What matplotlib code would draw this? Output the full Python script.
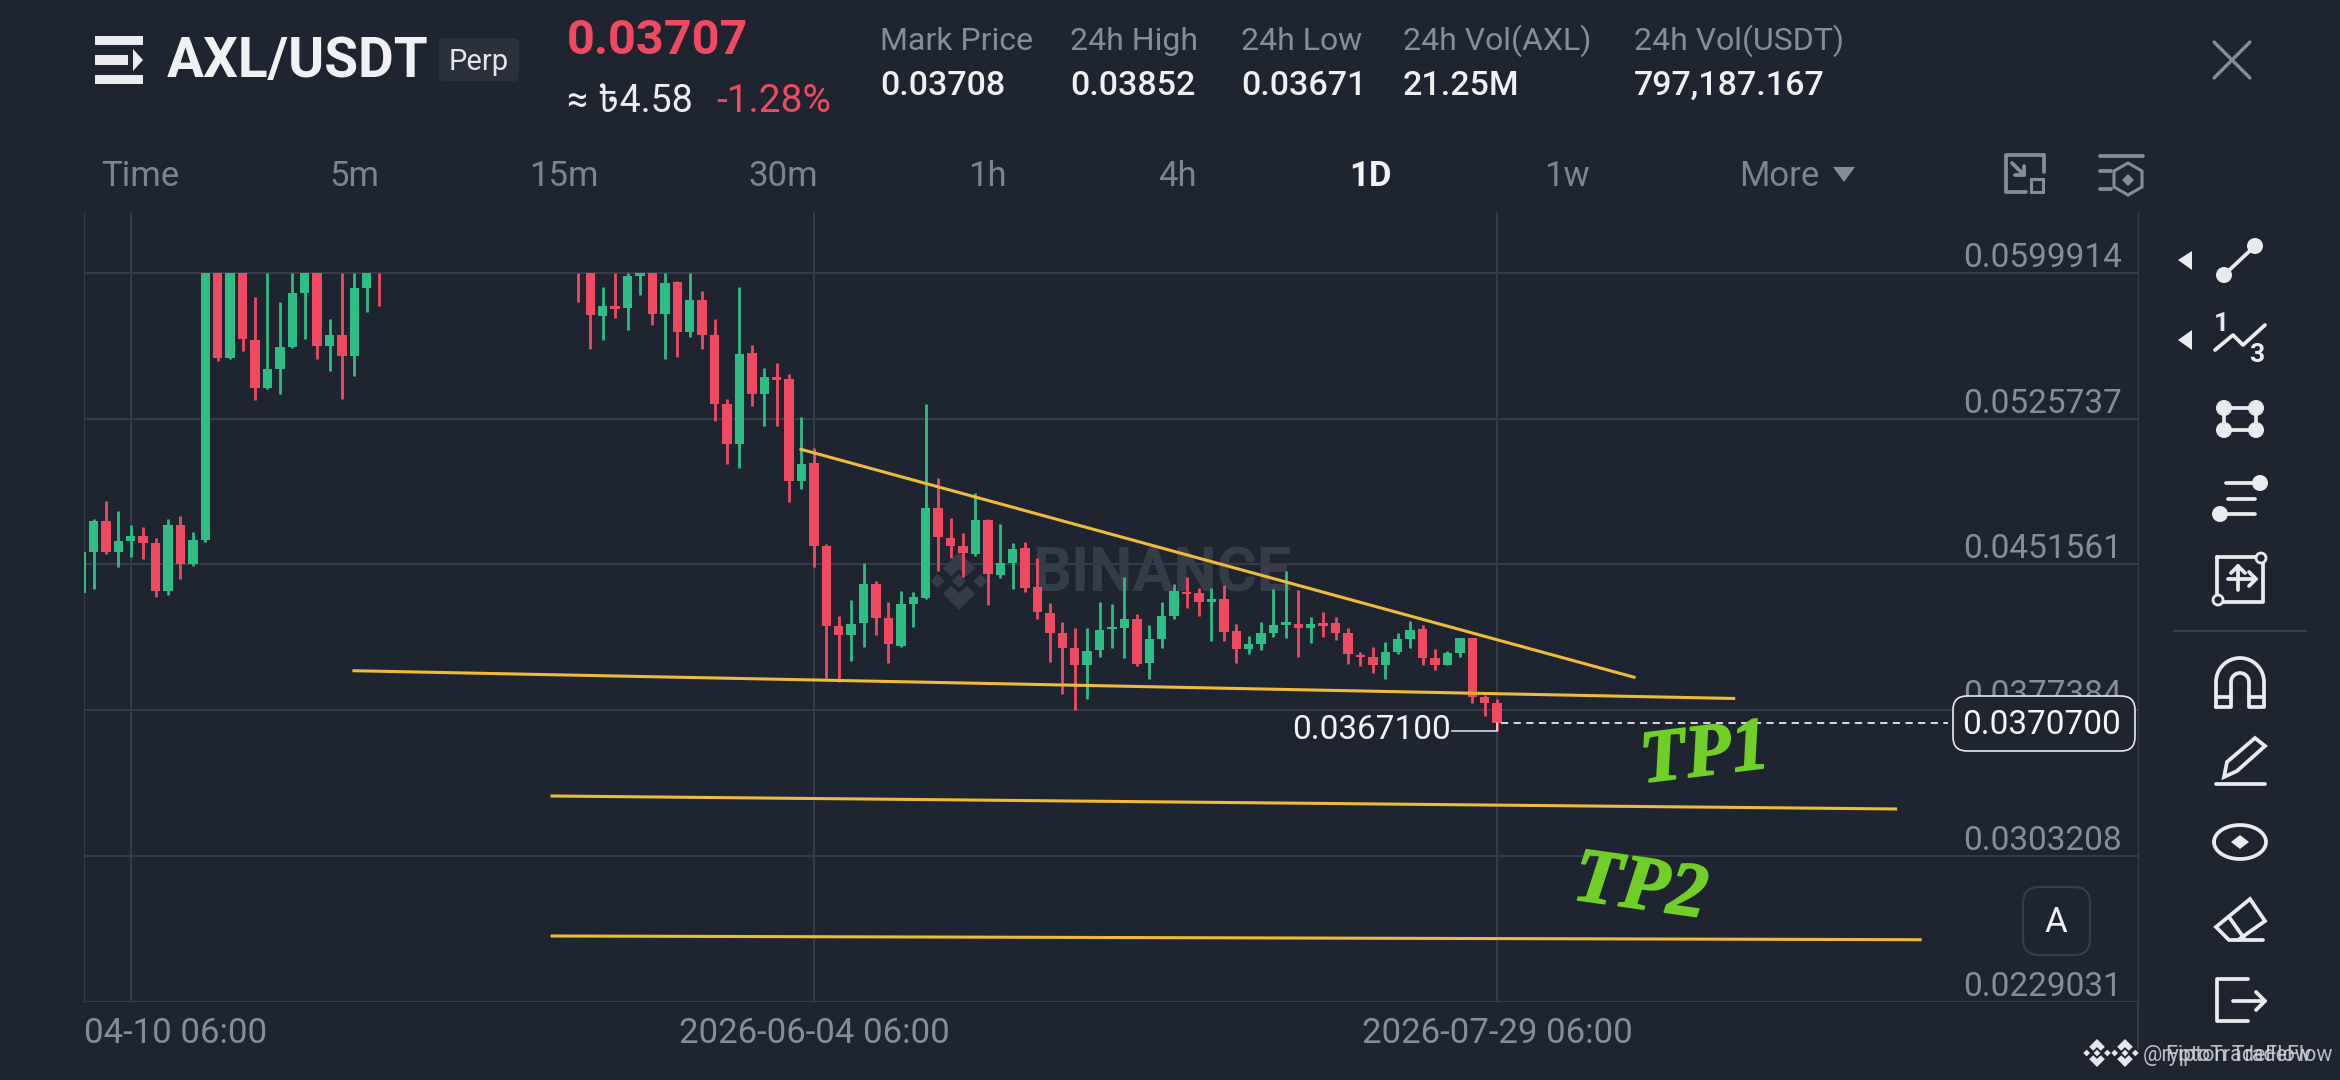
#!/usr/bin/env python3
"""AXL/USDT perp daily candles, redrawn from a phone screenshot."""
import matplotlib
matplotlib.use("Agg")
import matplotlib.pyplot as plt
import matplotlib.patheffects as pe
import numpy as np
from matplotlib.patches import Circle, FancyBboxPatch, Polygon, Rectangle
from matplotlib.transforms import ScaledTranslation

plt.rcParams["font.family"] = ["Roboto", "DejaVu Sans", "Noto Sans"]

# day index, 0 = 2026-04-07; the candles from day 24 to 38 sit above the cropped part
days = list(range(-1, 24)) + list(range(39, 114))
# prices in 1e-5 USDT
opens = [4369, 4580, 4738, 4580, 4635, 4658, 4626, 4380, 4714, 4516, 4638, 5999, 5565, 5999, 5657,
         5413, 5508, 5619, 5897, 5999, 5625, 5680, 5577, 5923, 5999,
         5999, 5999, 5780, 5828, 5819, 5982, 5999, 5791, 5950, 5699, 5860, 5682, 5331, 5126, 5589,
         5382, 5467, 5457, 4941, 5030, 4609, 4204, 4157, 4216, 4416, 4245, 4102, 4314, 4346, 4801,
         4652, 4611, 4569, 4741, 4462, 4525, 4597, 4399, 4270, 4165, 4089, 4004, 4080, 4187, 4194,
         4237, 4013, 4138, 4254, 4377, 4369, 4326, 4340, 4177, 4084, 4111, 4165, 4209, 4211, 4191,
         4216, 4216, 4169, 4057, 4047, 4004, 4072, 4138, 4186, 4038, 4006, 4067, 4140, 3840, 3809]
highs = [4580, 4745, 4838, 4789, 4714, 4706, 4648, 4748, 4762, 4679, 5999, 5999, 5999, 5999, 5877,
         5999, 5852, 5999, 5999, 5999, 5763, 5999, 5999, 5999, 5999,
         5999, 5999, 5926, 5999, 5999, 5999, 5999, 5999, 5957, 5999, 5908, 5763, 5358, 5926, 5631,
         5513, 5538, 5484, 5264, 5106, 4618, 4253, 4335, 4521, 4433, 4326, 4380, 4374, 5330, 4957,
         4753, 4674, 4877, 4745, 4721, 4623, 4631, 4547, 4321, 4225, 4191, 4191, 4326, 4314, 4454,
         4264, 4208, 4323, 4416, 4454, 4394, 4394, 4411, 4213, 4152, 4225, 4391, 4482, 4386, 4250,
         4274, 4247, 4192, 4072, 4098, 4123, 4169, 4230, 4209, 4084, 4077, 4143, 4143, 3854, 3831]
lows = [4369, 4391, 4569, 4504, 4552, 4545, 4352, 4358, 4443, 4509, 4631, 5550, 5558, 5601, 5352,
        5410, 5380, 5615, 5660, 5562, 5499, 5355, 5474, 5801, 5828,
        5850, 5609, 5655, 5767, 5708, 5886, 5733, 5562, 5570, 5670, 5613, 5243, 5024, 5006, 5323,
        5221, 5221, 4835, 4901, 4504, 3936, 3919, 4026, 4097, 4157, 4016, 4097, 4199, 4340, 4484,
        4547, 4453, 4560, 4309, 4445, 4391, 4377, 4236, 4021, 3855, 3775, 3831, 4043, 4092, 4042,
        4000, 3935, 4091, 4237, 4296, 4255, 4126, 4126, 4013, 4060, 4081, 4145, 4143, 4043, 4118,
        4148, 4131, 4009, 4001, 3962, 3933, 4060, 4093, 4003, 3981, 4003, 4047, 3809, 3745, 3671]
closes = [4580, 4738, 4580, 4635, 4658, 4626, 4380, 4714, 4516, 4638, 5999, 5565, 5999, 5660, 5413,
          5508, 5619, 5897, 5999, 5625, 5680, 5577, 5919, 5999, 5999,
          5999, 5786, 5828, 5814, 5980, 5996, 5791, 5947, 5699, 5860, 5682, 5331, 5126, 5585, 5384,
          5467, 5453, 4940, 5026, 4609, 4204, 4157, 4213, 4416, 4243, 4109, 4313, 4348, 4801, 4653,
          4611, 4572, 4741, 4465, 4525, 4592, 4394, 4272, 4169, 4089, 4004, 4075, 4182, 4199, 4238,
          4008, 4137, 4254, 4382, 4365, 4323, 4338, 4174, 4084, 4113, 4165, 4209, 4221, 4191, 4213,
          4204, 4165, 4060, 4047, 4004, 4072, 4138, 4182, 4042, 4003, 4067, 4140, 3843, 3809, 3707]

price_ticks = [0.0599914, 0.0525737, 0.0451561, 0.0377384, 0.0303208, 0.0229031]
date_ticks = [3, 58, 113]
date_labels = ["04-10 06:00", "2026-06-04 06:00", "2026-07-29 06:00"]
last_price = 0.03707
low_price = 0.03671

# drawn trend lines: (day, price) at both ends
falling_line = ([56.96, 124.03], [0.05101, 0.03942])
neckline = ([20.97, 132.05], [0.03975, 0.03834])
tp1_line = ([36.92, 145.09], [0.03338, 0.03272])
tp2_line = ([36.92, 147.06], [0.02626, 0.02607])

tabs = ["Time", "5m", "15m", "30m", "1h", "4h", "1D", "1w", "More"]
tab_x = [140, 354, 564, 783, 987, 1177, 1370, 1567, 1779]
stat_names = ["Mark Price", "24h High", "24h Low", "24h Vol(AXL)", "24h Vol(USDT)"]
stat_values = ["0.03708", "0.03852", "0.03671", "21.25M", "797,187.167"]
stat_x = [880, 1070, 1241, 1403, 1634]

BG = "#1E2530"
GRID = "#363C49"
GREEN = "#2EBD85"
RED = "#EF4A62"
MUTED = "#868C98"
ICON = "#E9EBEE"
GOLD = "#EFBB3A"

fig = plt.figure(figsize=(23.4, 10.8), dpi=100, facecolor=BG)
ax = fig.add_axes([84 / 2340, 78 / 1080, 2054 / 2340, 790 / 1080], facecolor=BG)
ui = fig.add_axes([0, 0, 1, 1], facecolor="none")
ui.set_xlim(0, 2340)
ui.set_ylim(1080, 0)
ui.axis("off")

ax.set_xlim(-0.765, 164.6)
ax.set_ylim(0.0229031, 0.06308)
for side in ["top", "bottom"]:
    ax.spines[side].set_visible(False)
for side in ["left", "right"]:
    ax.spines[side].set_color(GRID)
ax.grid(True, color=GRID, linewidth=1.4)
ax.set_axisbelow(True)
ax.set_yticks(price_ticks)
ax.set_yticklabels([f"{p:.7f}" for p in price_ticks])
ax.set_xticks(date_ticks)
ax.set_xticklabels(date_labels)
ax.yaxis.tick_right()
ax.tick_params(axis="y", length=0, pad=-11.5, labelsize=24, labelcolor=MUTED)
ax.tick_params(axis="x", length=0, pad=11, labelsize=25, labelcolor=MUTED)
for tl in ax.get_yticklabels():
    tl.set_ha("right")
    tl.set_va("bottom")
    tl.set_transform(tl.get_transform() + ScaledTranslation(0, -0.01, fig.dpi_scale_trans))
first = ax.get_xticklabels()[0]
first.set_ha("left")
first.set_transform(first.get_transform() + ScaledTranslation(-0.47, 0, fig.dpi_scale_trans))


def binance_logo(cx, cy, r, color, axes, zorder):
    top = [(0, -1), (.56, -.44), (.27, -.16), (0, -.42), (-.27, -.16), (-.56, -.44)]
    bottom = [(x, -y) for x, y in top]
    gems = [[(dx + .24, 0), (dx, -.24), (dx - .24, 0), (dx, .24)] for dx in (-.74, 0, .74)]
    for shape in [top, bottom] + gems:
        pts = [(cx + x * r, cy + y * r) for x, y in shape]
        axes.add_patch(Polygon(pts, closed=True, facecolor=color, edgecolor="none",
                               transform=ui.transData, zorder=zorder, clip_on=False))


# watermark under the candles
binance_logo(959, 581, 29, "#363C48", ax, 1)
ax.text(1162, 574, "BINANCE", transform=ui.transData, color="#363C48", fontsize=44,
        fontweight="bold", ha="center", va="center", zorder=1)

# candles
opens_p = np.array(opens) / 1e5
highs_p = np.array(highs) / 1e5
lows_p = np.array(lows) / 1e5
closes_p = np.array(closes) / 1e5
colors = [GREEN if c > o or (c == o and i == 0) else RED
          for i, (o, c) in enumerate(zip(opens_p, closes_p))]
ax.vlines(days, lows_p, highs_p, colors=colors, linewidth=2.0, zorder=3)
ax.bar(days, np.abs(closes_p - opens_p), bottom=np.minimum(opens_p, closes_p), width=0.76,
       color=colors, linewidth=0, zorder=3)

for xs, ys in [falling_line, neckline, tp1_line, tp2_line]:
    ax.plot(xs, ys, color=GOLD, linewidth=2.2, zorder=4)

# last price line and the low marker
ax.plot([113.3, 149.3], [last_price, last_price], color="#E8EAEE", linewidth=1.3,
        dashes=(4, 3), zorder=5)
ax.plot([109.4, 113, 113], [low_price, low_price, low_price + 0.0004], color="#E8EAEE",
        linewidth=1.1, zorder=5)
ax.text(109.3, low_price + 0.00005, "0.0367100", color="#F2F3F5", fontsize=24, ha="right",
        va="center", zorder=5)

ui.add_patch(FancyBboxPatch((1953, 702), 176, 43, boxstyle="round,pad=0,rounding_size=0",
                            facecolor=BG, edgecolor="none", zorder=5))
ui.add_patch(FancyBboxPatch((1959, 702), 170, 43, boxstyle="round,pad=6,rounding_size=14",
                            facecolor=BG, edgecolor="#E8EAEE", linewidth=1.2, zorder=6))
ui.text(2041, 725, "0.0370700", color="#F5F6F7", fontsize=24, ha="center", va="center", zorder=7)

ui.plot([2138, 2138], [1002, 1049], color=GRID, linewidth=1.4)

ui.add_patch(FancyBboxPatch((2035, 899), 43, 44, boxstyle="round,pad=12,rounding_size=16",
                            facecolor=BG, edgecolor=GRID, linewidth=1.6, zorder=6))
ui.text(2056, 923, "A", color="#F2F3F5", fontsize=25, ha="center", va="center", zorder=7)

serif = ["Liberation Serif", "DejaVu Serif"]
heavier = [pe.withStroke(linewidth=1.2, foreground="#6FCF26")]
ui.text(1705, 757, "TP1", color="#6FCF26", fontsize=54, family=serif, style="italic",
        fontweight="bold", rotation=7, ha="center", va="center", zorder=7, path_effects=heavier)
ui.text(1640, 890, "TP2", color="#6FCF26", fontsize=56, family=serif, style="italic",
        fontweight="bold", rotation=-8, ha="center", va="center", zorder=7, path_effects=heavier)

# header
for y0, y1, x1 in [(36, 45, 143), (55, 65, 128), (75, 84, 143)]:
    ui.add_patch(Rectangle((95, y0), x1 - 95, y1 - y0, facecolor=ICON, edgecolor="none"))
ui.add_patch(Polygon([(133, 49), (143, 60), (133, 71)], facecolor=ICON, edgecolor="none"))
ui.text(167, 62, "AXL/USDT", color="#F0F1F3", fontsize=39.5, fontweight="bold", va="center")
ui.add_patch(FancyBboxPatch((443, 42), 72, 35, boxstyle="round,pad=4,rounding_size=5",
                            facecolor="#2A303C", edgecolor="none"))
ui.text(479, 62, "Perp", color="#E4E6EA", fontsize=21, ha="center", va="center")
ui.text(567, 41, "0.03707", color=RED, fontsize=35, fontweight="bold", va="center")
ui.text(567, 101, "≈ ৳4.58", color="#EDEEF0", fontsize=27, va="center",
        family=["Roboto", "Noto Sans Bengali", "FreeSans"])
ui.text(716, 101, "-1.28%", color=RED, fontsize=28, va="center")

for name, value, x in zip(stat_names, stat_values, stat_x):
    ui.text(x, 41, name, color=MUTED, fontsize=23, va="center")
    ui.text(x, 86, value, color="#F0F1F3", fontsize=24.5, fontweight="medium", va="center")

for tab, x in zip(tabs, tab_x):
    active = tab == "1D"
    ui.text(x, 177, tab, color="#F2F3F5" if active else "#7D838F", fontsize=25, ha="center",
            va="center", fontweight="bold" if active else "normal")
ui.add_patch(Polygon([(1833, 167), (1855, 167), (1844, 182)], facecolor=MUTED, edgecolor="none"))


def seg(xs, ys, color=ICON, lw=2.7):
    ui.plot(xs, ys, color=color, linewidth=lw, solid_capstyle="round", solid_joinstyle="round")


def dot(x, y, r=8, color=ICON):
    ui.add_patch(Circle((x, y), r, facecolor=color, edgecolor="none", zorder=4))


# close cross and the two top icons
seg([2214, 2250], [42, 78], color=MUTED, lw=2.4)
seg([2250, 2214], [42, 78], color=MUTED, lw=2.4)
seg([2044, 2006, 2006, 2026], [155, 155, 192, 192], color=MUTED)
seg([2044, 2044], [155, 172], color=MUTED)
seg([2012, 2024], [163, 175], color=MUTED)
seg([2024, 2024, 2015], [166, 175, 175], color=MUTED)
ui.add_patch(Rectangle((2031, 179), 12, 13, facecolor="none", edgecolor=MUTED, linewidth=2.2))
seg([2100, 2143], [156, 156], color=MUTED)
seg([2100, 2111], [171, 171], color=MUTED)
seg([2100, 2111], [189, 189], color=MUTED)
ui.add_patch(Polygon([(2128, 163), (2142, 171), (2142, 187), (2128, 195), (2114, 187), (2114, 171)],
                     facecolor="none", edgecolor=MUTED, linewidth=2.2))
ui.add_patch(Polygon([(2128, 174), (2134, 180), (2128, 186), (2122, 180)], facecolor=MUTED,
                     edgecolor="none"))

# right toolbar
ui.add_patch(Polygon([(2192, 251), (2192, 270), (2178, 260)], facecolor=ICON, edgecolor="none"))
ui.add_patch(Polygon([(2192, 330), (2192, 350), (2178, 340)], facecolor=ICON, edgecolor="none"))
seg([2224, 2255], [275, 246])
dot(2224, 275)
dot(2255, 246)
seg([2215, 2233, 2243, 2265], [350, 335, 345, 325])
ui.text(2221, 324, "1", color=ICON, fontsize=19, fontweight="bold", ha="center", va="center")
ui.text(2257, 355, "3", color=ICON, fontsize=19, fontweight="bold", ha="center", va="center")
seg([2224, 2256, 2256, 2224, 2224], [408, 408, 430, 430, 408])
for x in (2224, 2256):
    for y in (408, 430):
        dot(x, y)
seg([2226, 2257], [483, 483])
dot(2260, 483)
seg([2228, 2255], [499, 499])
seg([2220, 2255], [514, 514])
dot(2220, 514)
seg([2217, 2263, 2263, 2217, 2217], [557, 557, 602, 602, 557])
ui.add_patch(Circle((2261, 558), 5, facecolor=BG, edgecolor=ICON, linewidth=2, zorder=5))
ui.add_patch(Circle((2218, 600), 5, facecolor=BG, edgecolor=ICON, linewidth=2, zorder=5))
seg([2238, 2238], [590, 566])
seg([2231, 2238, 2245], [573, 566, 573])
seg([2228, 2256], [579, 579])
seg([2249, 2256, 2249], [572, 579, 586])
ui.plot([2174, 2306], [631, 631], color="#3A404C", linewidth=1.6)
arc = np.linspace(np.pi, 2 * np.pi, 30)
seg(np.r_[2216, 2240 + 24 * np.cos(arc), 2264, 2249, 2240 + 9 * np.cos(arc[::-1]), 2231, 2216],
    np.r_[707, 682 + 24 * np.sin(arc), 707, 707, 682 + 9 * np.sin(arc[::-1]), 707, 707])
seg([2216, 2231], [697, 697])
seg([2249, 2264], [697, 697])
seg([2216, 2265], [784, 784])
ui.add_patch(Polygon([(2224, 777), (2227, 762), (2255, 738), (2265, 746), (2237, 771)],
                     facecolor="none", edgecolor=ICON, linewidth=2.7))
lens = np.linspace(0, np.pi, 30)
seg(np.r_[2240 - 26 * np.cos(lens), 2240 + 26 * np.cos(lens)],
    np.r_[842 - 17 * np.sin(lens), 842 + 17 * np.sin(lens)])
ui.add_patch(Polygon([(2240, 835), (2249, 842), (2240, 849), (2231, 842)], facecolor=ICON,
                     edgecolor="none"))
ui.add_patch(Polygon([(2216, 927), (2250, 899), (2265, 921), (2238, 940), (2229, 940)],
                     facecolor="none", edgecolor=ICON, linewidth=2.7))
seg([2229, 2244], [917, 938])
seg([2238, 2263], [940, 940])
seg([2248, 2217, 2217, 2248], [979, 979, 1021, 1021])
seg([2233, 2265], [1001, 1001])
seg([2256, 2265, 2256], [992, 1001, 1010])

# repost watermark, two names on top of each other
binance_logo(2097, 1053, 14, "#E4E6EA", ui, 6)
binance_logo(2125, 1053, 14, "#E4E6EA", ui, 6)
ui.text(2143, 1056, "@ryptoTradeFlow", color="#D5D8DD", fontsize=15.5, va="center", alpha=0.85)
ui.text(2332, 1056, "Fipton TradeFlow", color="#D5D8DD", fontsize=15.5, ha="right", va="center", alpha=0.85)

fig.savefig("out.png", dpi=100, facecolor=BG)
